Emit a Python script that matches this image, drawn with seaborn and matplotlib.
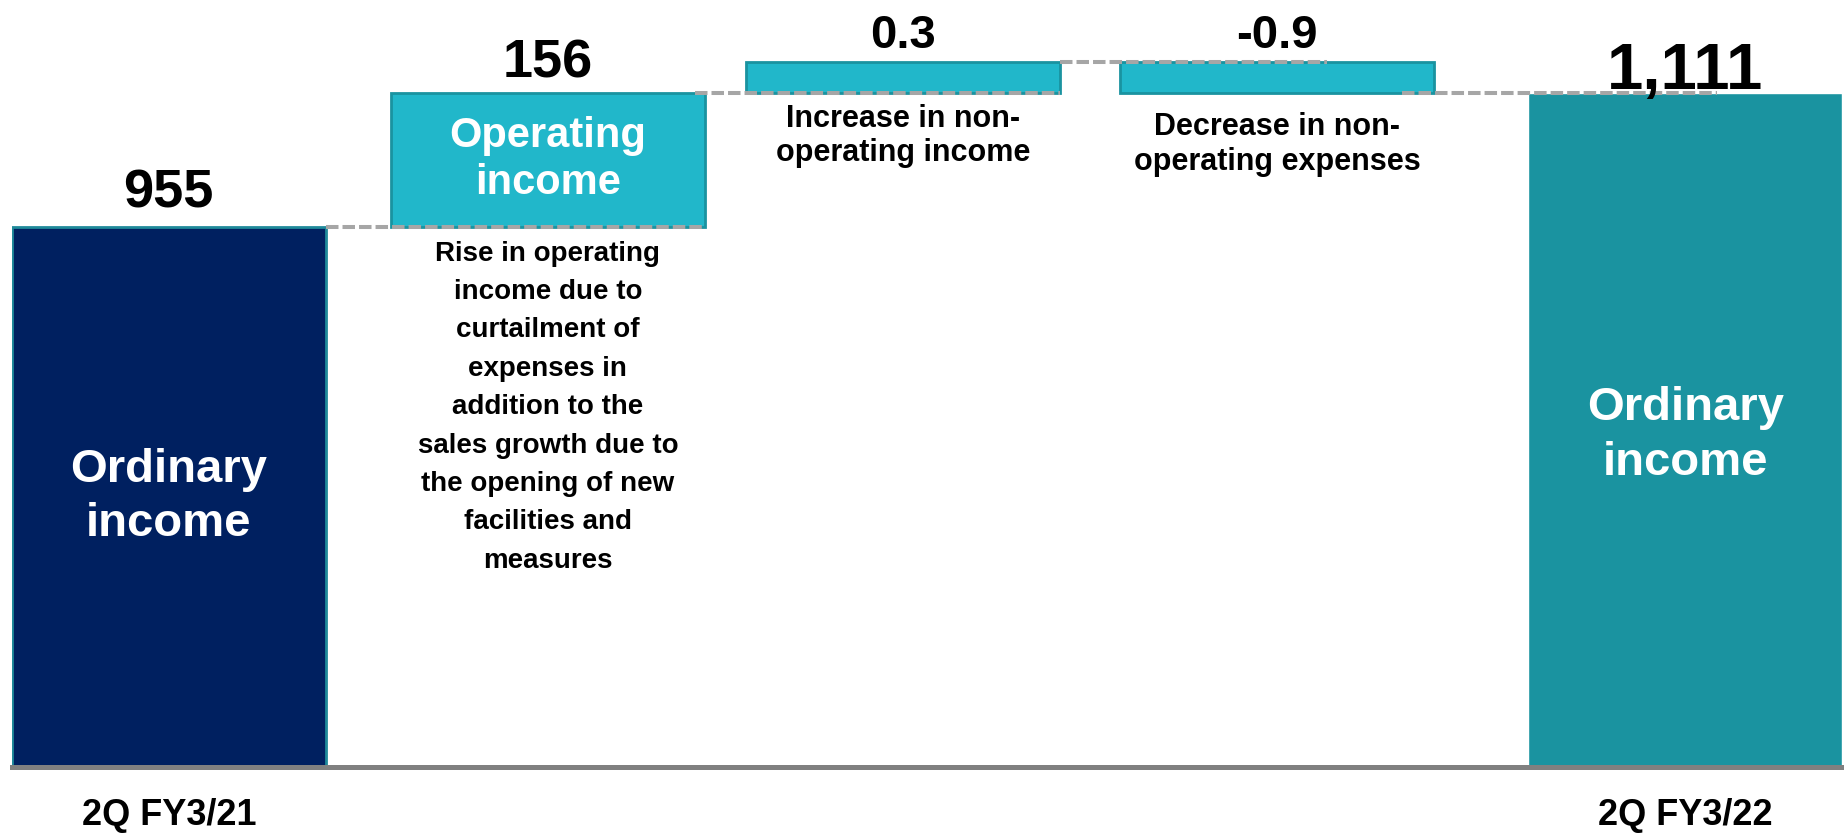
import numpy as np
import pandas as pd
import matplotlib
matplotlib.use("Agg")
import matplotlib.pyplot as plt
import seaborn as sns

# ---- data -------------------------------------------------------------
categories = ["2Q FY3/21", "Operating income", "Non-operating income",
              "Non-operating expenses", "2Q FY3/22"]
start_value = 955
changes = [156, 0.3, -0.9]
end_value = 1111
tick_labels = ["2Q FY3/21", "", "", "", "2Q FY3/22"]
inner_labels = ["Ordinary\nincome", "Operating\nincome", "", "", "Ordinary\nincome"]
notes = [
    "",
    "Rise in operating\nincome due to\ncurtailment of\nexpenses in\naddition to the\n"
    "sales growth due to\nthe opening of new\nfacilities and\nmeasures",
    "Increase in non-\noperating income",
    "Decrease in non-\noperating expenses",
    "",
]

# ---- layout & style ---------------------------------------------------
SLOT_X = [0, 1, 1.936, 2.923, 4]   # horizontal slot of each bar
NAVY = "#002060"
CYAN = "#21B7CA"
CYAN_EDGE = "#1A93A0"
TEAL = "#1A93A0"
DASH = "#A6A6A6"
BASE = "#808080"
BAR_WIDTH = 0.827
MIN_STEP = 36          # smallest drawn height for tiny changes (axis units)
Y_RANGE = (326, 1219)

sns.set_theme(style="white")
plt.rcParams["font.family"] = ["Liberation Sans", "DejaVu Sans"]
plt.rcParams["font.weight"] = "bold"

fig = plt.figure(figsize=(18.44, 8.35), dpi=100)
ax = fig.add_axes([12 / 1844, 68 / 835, 1830 / 1844, 767 / 835])

# totals drawn with seaborn
totals = pd.DataFrame({
    "category": categories,
    "value": [start_value, np.nan, np.nan, np.nan, end_value],
})
sns.barplot(data=totals, x="category", y="value", order=categories,
            hue="category", palette=[NAVY, CYAN, CYAN, CYAN, TEAL],
            saturation=1, legend=False, width=BAR_WIDTH, ax=ax, zorder=2)
ax.patches[0].set_edgecolor("#1F8A9A")
ax.patches[0].set_linewidth(2.0)

# floating bars for the changes
shown = start_value
bottoms, tops = [], []
for ch in changes:
    if abs(ch) < MIN_STEP:
        step = MIN_STEP if ch > 0 else -MIN_STEP
    else:
        step = ch
    lo, hi = sorted([shown, shown + step])
    bottoms.append(lo)
    tops.append(hi)
    shown += step

ax.bar(SLOT_X[1:4], np.array(tops) - np.array(bottoms), bottom=bottoms,
       width=BAR_WIDTH, color=CYAN, edgecolor=CYAN_EDGE, linewidth=2.0,
       zorder=2)

# connectors between consecutive bars
half = BAR_WIDTH / 2
conn_levels = [start_value, tops[0], tops[1], bottoms[2]]
conn_starts = [1.0, 0.97, 1.0, 0.9]
conn_ends = [1.0, 1.0, 0.66, 0.6]
for i, (lev, s, e) in enumerate(zip(conn_levels, conn_starts, conn_ends)):
    x0 = SLOT_X[i] - half + s * BAR_WIDTH
    x1 = SLOT_X[i + 1] - half + e * BAR_WIDTH
    ax.plot([x0, x1], [lev, lev], color=DASH, lw=2.9,
            dashes=(3.1, 1.0), solid_capstyle="butt", zorder=3)

# value labels above each bar
values = [start_value] + changes + [end_value]
bar_tops = [start_value] + tops + [end_value]
label_sizes = [39, 39, 34, 34, 47]
label_offsets = [24, 21, 18.5, 18.5, 15]
for x, v, top, fs, off in zip(SLOT_X, values, bar_tops, label_sizes,
                              label_offsets):
    ax.annotate(f"{v:,}", (x, top), xytext=(0, off),
                textcoords="offset points", ha="center", va="center",
                fontsize=fs, fontweight="bold", color="black")

# labels inside the bars
bar_bottoms = [Y_RANGE[0], bottoms[0], bottoms[1], bottoms[2], Y_RANGE[0]]
inner_sizes = [34, 30, 0, 0, 34]
inner_spacing = [1.3, 1.24, 1, 1, 1.3]
inner_shift = [0, 0, 0, 0, -4]
for x, lab, fs, ls, sh, lo, hi in zip(SLOT_X, inner_labels, inner_sizes,
                                      inner_spacing, inner_shift,
                                      bar_bottoms, bar_tops):
    if lab:
        ax.annotate(lab, (x, (lo + hi) / 2), xytext=(0, sh),
                    textcoords="offset points", ha="center", va="center",
                    fontsize=fs, fontweight="bold", color="white",
                    linespacing=ls, zorder=4)

# explanatory notes under the change bars
note_sizes = [0, 20, 22, 22, 0]
note_offsets = [0, -10, -8, -14, 0]
note_spacing = [1, 1.62, 1.2, 1.22, 1]
for x, note, fs, off, ls, lo in zip(SLOT_X, notes, note_sizes, note_offsets,
                                    note_spacing, bar_bottoms):
    if note:
        ax.annotate(note, (x, lo), xytext=(0, off),
                    textcoords="offset points", ha="center", va="top",
                    fontsize=fs, fontweight="bold", color="black",
                    linespacing=ls)

# axes styling
ax.set_xlim(-half, len(categories) - 1 + half)
ax.set_ylim(*Y_RANGE)
ax.set_xticks(range(len(categories)))
ax.set_xticklabels(tick_labels, fontsize=26, fontweight="bold", color="black")
ax.tick_params(axis="x", length=0, pad=22)
ax.set_yticks([])
ax.set_xlabel("")
ax.set_ylabel("")
for side in ["top", "left", "right"]:
    ax.spines[side].set_visible(False)
ax.spines["bottom"].set_color(BASE)
ax.spines["bottom"].set_linewidth(3.6)
ax.spines["bottom"].set_zorder(5)
ax.set_facecolor("white")
fig.patch.set_facecolor("white")

fig.savefig("out.png", dpi=100, facecolor="white")
